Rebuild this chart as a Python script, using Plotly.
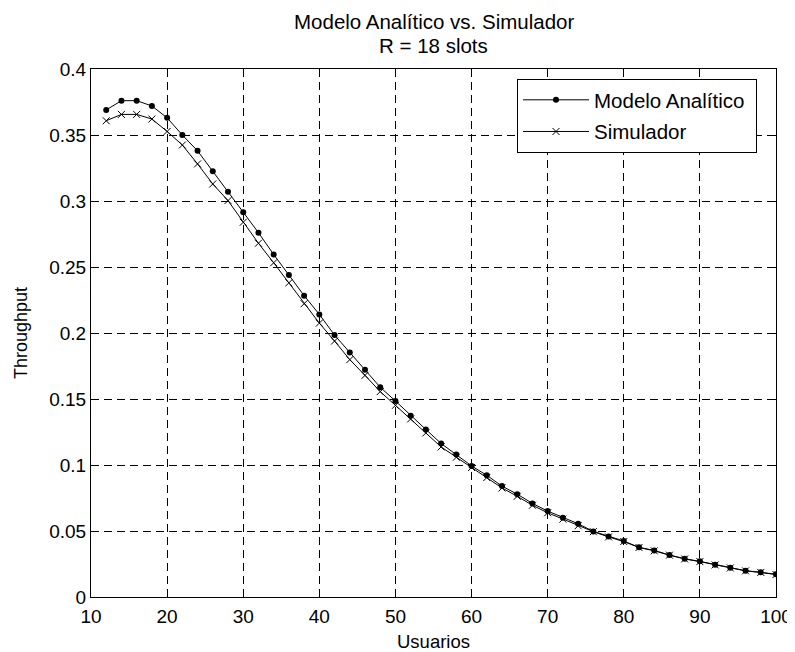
import plotly.graph_objects as go

usuarios = list(range(12, 101, 2))
modelo = [0.369, 0.376, 0.376, 0.372, 0.363, 0.350, 0.338, 0.3225, 0.307, 0.2915,
          0.276, 0.2595, 0.244, 0.2283, 0.2141, 0.1984, 0.1853, 0.1722, 0.1589, 0.1485,
          0.1374, 0.1269, 0.1163, 0.1079, 0.0993, 0.0922, 0.0840, 0.0779, 0.0709, 0.0651,
          0.0600, 0.0555, 0.0497, 0.0459, 0.0424, 0.0376, 0.0353, 0.0318, 0.0290, 0.0270,
          0.0245, 0.0222, 0.0199, 0.0187, 0.0172]
simulador = [0.3608, 0.3656, 0.3656, 0.3621, 0.3527, 0.3424, 0.3281, 0.3129, 0.3003, 0.2839,
             0.2680, 0.2532, 0.2380, 0.2222, 0.2075, 0.1939, 0.1798, 0.1679, 0.1556, 0.1452,
             0.1349, 0.1243, 0.1137, 0.1059, 0.0981, 0.0905, 0.0826, 0.0763, 0.0695, 0.0638,
             0.0590, 0.0540, 0.0495, 0.0455, 0.0420, 0.0375, 0.0350, 0.0317, 0.0288, 0.0268,
             0.0243, 0.0220, 0.0198, 0.0186, 0.0170]

x_ticks = [10, 20, 30, 40, 50, 60, 70, 80, 90, 100]
y_ticks = [0, 0.05, 0.1, 0.15, 0.2, 0.25, 0.3, 0.35, 0.4]
y_tick_labels = ["0", "0.05", "0.1", "0.15", "0.2", "0.25", "0.3", "0.35", "0.4"]
title_lines = ["Modelo Analítico vs. Simulador", "R = 18 slots"]

FONT = "Liberation Sans, Arial, sans-serif"
# page body has an 8px margin; figure coords are screen coords minus 8
OFF = 8
W, H = 795 - OFF, 652 - OFF
L, R, T, B = 91 - OFF, 776 - OFF, 69 - OFF, 597 - OFF

fig = go.Figure()
fig.add_trace(go.Scatter(
    x=usuarios, y=modelo, mode="lines+markers", name="Modelo Analítico&nbsp;",
    legendgroup="a",
    line=dict(color="black", width=1),
    marker=dict(symbol="circle", size=6, color="black"),
))
fig.add_trace(go.Scatter(
    x=usuarios, y=simulador, mode="lines+markers", name="Simulador",
    legendgroup="b",
    line=dict(color="black", width=1),
    marker=dict(symbol="x-thin", size=7, color="black", line=dict(color="black", width=1)),
))

axis_common = dict(
    showline=True, linecolor="black", linewidth=1, mirror="ticks",
    ticks="inside", ticklen=6, tickcolor="black", tickwidth=1,
    showgrid=True, gridcolor="black", gridwidth=1, griddash="8px,5px",
    zeroline=False, automargin=False,
    tickfont=dict(family=FONT, size=19, color="black"),
)

fig.update_xaxes(range=[10, 100], tickvals=x_ticks, ticktext=[str(v) for v in x_ticks],
                 ticklabelstandoff=2,
                 title=dict(text="Usuarios", font=dict(family=FONT, size=18.5, color="black"), standoff=10),
                 **axis_common)
fig.update_yaxes(range=[0, 0.4], tickvals=y_ticks, ticktext=y_tick_labels,
                 title=dict(text="Throughput", font=dict(family=FONT, size=18, color="black"), standoff=16),
                 **axis_common)

ph = B - T
for txt, cy in zip(title_lines, [21 - OFF, 45 - OFF]):
    fig.add_annotation(text=txt, xref="paper", yref="paper", x=0.5, y=1 + (T - cy) / ph,
                       xanchor="center", yanchor="middle", showarrow=False,
                       font=dict(family=FONT, size=20.5, color="black"))

fig.update_layout(
    width=W, height=H,
    margin=dict(l=L, r=W - R, t=T, b=H - B, autoexpand=False),
    paper_bgcolor="white", plot_bgcolor="white",
    showlegend=True,
    legend=dict(x=(517 - 91) / (776 - 91), y=(597 - 79) / ph, xanchor="left", yanchor="top",
                bgcolor="white", bordercolor="black", borderwidth=1,
                font=dict(family=FONT, size=20.5, color="black"),
                traceorder="grouped", tracegroupgap=2, itemwidth=66),
)

fig.write_html("out.html")
